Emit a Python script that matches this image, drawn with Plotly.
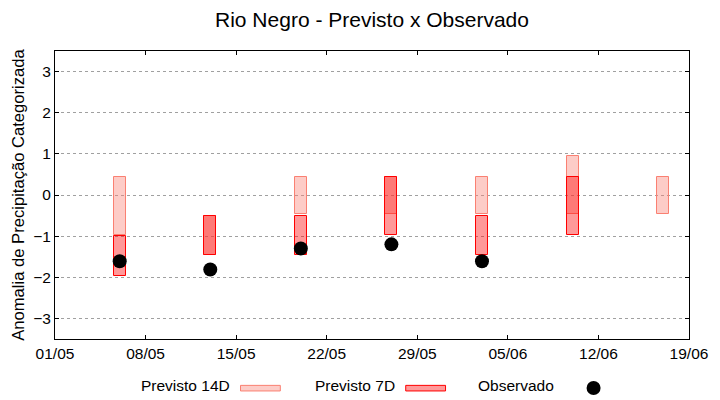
import plotly.graph_objects as go
import pandas as pd

# ---- data ----
dates14 = ['2023-05-06', '2023-05-13', '2023-05-20', '2023-05-27', '2023-06-03', '2023-06-10', '2023-06-17']
p14_top = [0.43, -0.52, 0.43, 0.43, 0.43, 0.94, 0.43]
p14_bot = [-0.96, -1.45, -0.45, -0.45, -0.45, -0.45, -0.45]

dates7 = ['2023-05-06', '2023-05-13', '2023-05-20', '2023-05-27', '2023-06-03', '2023-06-10']
p7_top = [-1.00, -0.52, -0.52, 0.43, -0.52, 0.43]
p7_bot = [-1.96, -1.45, -1.45, -0.96, -1.45, -0.96]

dates_obs = ['2023-05-06', '2023-05-13', '2023-05-20', '2023-05-27', '2023-06-03']
obs = [-1.61, -1.81, -1.30, -1.20, -1.61]

xtick_vals = ['2023-05-01', '2023-05-08', '2023-05-15', '2023-05-22', '2023-05-29', '2023-06-05', '2023-06-12', '2023-06-19']
xtick_text = ['01/05', '08/05', '15/05', '22/05', '29/05', '05/06', '12/06', '19/06']
ytick_vals = [-3, -2, -1, 0, 1, 2, 3]

title = 'Rio Negro - Previsto x Observado'
ytitle = 'Anomalia de Precipitação Categorizada'
leg_names = ['Previsto 14D', 'Previsto 7D', 'Observado']

# ---- styles ----
FONT = 'Liberation Sans, Arial, sans-serif'
FS = 15.5
c14_fill = 'rgba(250,128,114,0.4)'
c14_line = 'rgb(250,128,114)'
c7_fill = 'rgba(255,0,0,0.4)'
c7_line = 'rgb(255,0,0)'
day_ms = 86400000
bw = 0.92 * day_ms

fig = go.Figure()
fig.add_trace(go.Bar(
    x=pd.to_datetime(dates14), y=[t - b for t, b in zip(p14_top, p14_bot)], base=p14_bot,
    width=bw, marker=dict(color=c14_fill, line=dict(color=c14_line, width=1)),
    name=leg_names[0], showlegend=False))
fig.add_trace(go.Bar(
    x=pd.to_datetime(dates7), y=[t - b for t, b in zip(p7_top, p7_bot)], base=p7_bot,
    width=bw, marker=dict(color=c7_fill, line=dict(color=c7_line, width=1)),
    name=leg_names[1], showlegend=False))
fig.add_trace(go.Scatter(
    x=pd.to_datetime(dates_obs), y=obs, mode='markers',
    marker=dict(color='black', size=14, symbol='circle'),
    name=leg_names[2], showlegend=False))

# ---- custom legend (gnuplot style: text then sample) ----
ann = []
shapes = []
leg_y = -0.163
text_right = [0.279, 0.539, 0.791]
for name, xr in zip(leg_names, text_right):
    ann.append(dict(x=xr, y=leg_y, xref='paper', yref='paper', text=name, showarrow=False,
                    xanchor='right', yanchor='middle', font=dict(family=FONT, size=FS, color='black')))
shapes.append(dict(type='rect', xref='paper', yref='paper', x0=0.2926, x1=0.3554, y0=-0.1804, y1=-0.161,
                   fillcolor=c14_fill, line=dict(color=c14_line, width=1)))
shapes.append(dict(type='rect', xref='paper', yref='paper', x0=0.5532, x1=0.616, y0=-0.1804, y1=-0.161,
                   fillcolor=c7_fill, line=dict(color=c7_line, width=1)))
shapes.append(dict(type='circle', xref='paper', yref='paper', xsizemode='pixel', ysizemode='pixel',
                   xanchor=0.8495, yanchor=-0.170, x0=-7, x1=7, y0=-7, y1=7,
                   fillcolor='black', line=dict(color='black', width=0)))

fig.update_layout(
    width=720, height=400,
    margin=dict(l=55, r=28, t=51, b=61),
    paper_bgcolor='white', plot_bgcolor='white',
    barmode='overlay', bargap=0,
    font=dict(family=FONT, size=FS, color='black'),
    title=dict(text=title, x=0.5, xref='paper', xanchor='center', y=0.95, yanchor='middle',
               font=dict(family=FONT, size=21, color='black')),
    annotations=ann, shapes=shapes,
    xaxis=dict(type='date', range=['2023-05-01', '2023-06-19'],
               tickvals=pd.to_datetime(xtick_vals), ticktext=xtick_text,
               showgrid=False, zeroline=False, showline=True, linecolor='black', linewidth=1,
               mirror='ticks', ticks='inside', ticklen=4, tickcolor='black',
               tickfont=dict(family=FONT, size=FS, color='black')),
    yaxis=dict(range=[-3.5, 3.5], tickvals=ytick_vals,
               showgrid=True, gridcolor='#a0a0a0', griddash='dot', gridwidth=1,
               zeroline=False, showline=True, linecolor='black', linewidth=1,
               mirror='ticks', ticks='inside', ticklen=4, tickcolor='black',
               tickfont=dict(family=FONT, size=FS, color='black'),
               title=dict(text=ytitle, font=dict(family=FONT, size=16.6, color='black'), standoff=4)),
)

fig.write_html('out.html', config={'displayModeBar': False},
               post_script="document.body.style.margin='0px';document.body.style.padding='0px';")
